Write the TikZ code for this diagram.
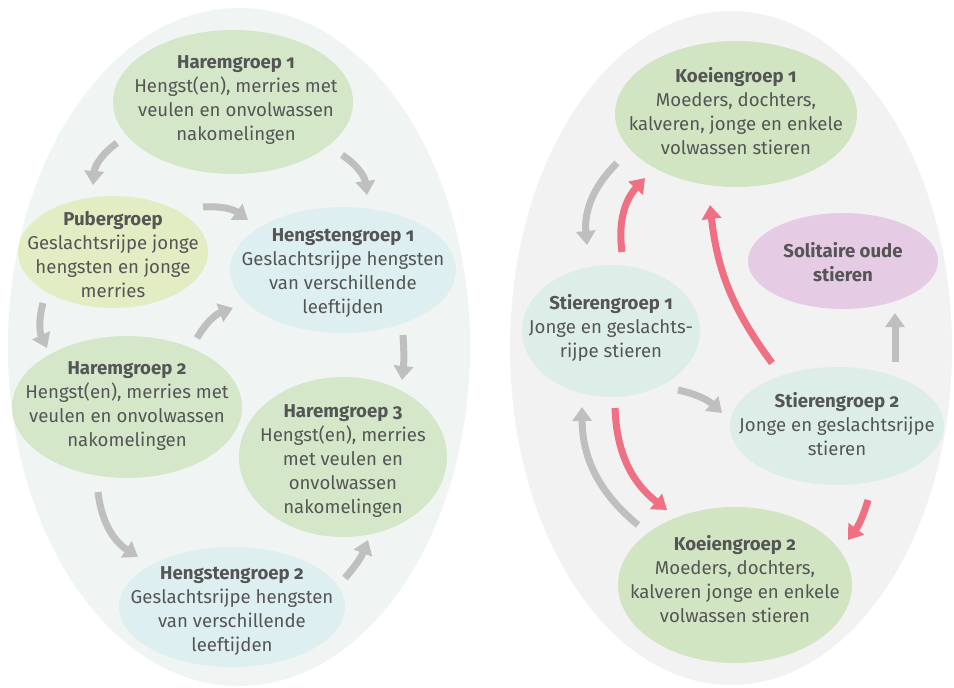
\documentclass[tikz,border=0pt]{standalone}
\usepackage{fontspec}
\setmainfont{Fira Sans}[Numbers=OldStyle]
\usetikzlibrary{shapes.geometric,arrows.meta,calc}
\definecolor{bgL}{HTML}{F0F4F2}
\definecolor{bgR}{HTML}{F2F2F2}
\definecolor{harem}{HTML}{D4E7C9}
\definecolor{puber}{HTML}{E3EDC4}
\definecolor{hengst}{HTML}{DDEFF0}
\definecolor{koe}{HTML}{D2E5C3}
\definecolor{stier}{HTML}{DDEEE9}
\definecolor{soli}{HTML}{E6CBE4}
\definecolor{agrey}{HTML}{BFBFBF}
\definecolor{ared}{HTML}{EE7082}
\definecolor{txtc}{HTML}{555555}
\tikzset{
  blob/.style={ellipse, inner sep=0pt, draw=none},
  txt/.style={align=center, text=txtc, font=\fontsize{18.6}{24}\selectfont, inner sep=0pt},
  garrow/.style={draw=agrey, line width=7pt, -{Triangle[width=19pt,length=14pt]}},
  rarrow/.style={draw=ared, line width=7pt, -{Triangle[width=19pt,length=14pt]}}
}
\begin{document}
\begin{tikzpicture}[x=1pt,y=-1pt]
\useasboundingbox (0,0) rectangle (954,688);
\fill[white] (0,0) rectangle (954,688);
% big backgrounds
\node[blob, fill=bgL, minimum width=462pt, minimum height=678pt] (L) at (239,347) {};
\node[blob, fill=bgR, minimum width=442pt, minimum height=674pt] (R) at (731,348) {};
% left nodes
\node[blob, fill=harem, minimum width=240pt, minimum height=144pt] (h1) at (233,102) {};
\node[blob, fill=puber, minimum width=190pt, minimum height=112pt] (pub) at (113,252) {};
\node[blob, fill=hengst, minimum width=226pt, minimum height=126pt] (hg1) at (343,270) {};
\node[blob, fill=harem, minimum width=230pt, minimum height=142pt] (h2) at (127,407) {};
\node[blob, fill=harem, minimum width=208pt, minimum height=160pt] (h3) at (343,457) {};
\node[blob, fill=hengst, minimum width=226pt, minimum height=120pt] (hg2) at (232,607) {};
% right nodes
\node[blob, fill=koe, minimum width=242pt, minimum height=146pt] (k1) at (736,114) {};
\node[blob, fill=soli, minimum width=190pt, minimum height=96pt] (sol) at (843,261) {};
\node[blob, fill=stier, minimum width=178pt, minimum height=132pt] (s1) at (611,331) {};
\node[blob, fill=stier, minimum width=214pt, minimum height=118pt] (s2) at (837,426) {};
\node[blob, fill=koe, minimum width=234pt, minimum height=156pt] (k2) at (735,585) {};
% texts
\node[txt] (h1t) at ($(h1)+(3,-2)$) {\textbf{Haremgroep 1}\\Hengst(en), merries met\\veulen en onvolwassen\\nakomelingen};
\node[txt] (pubt) at ($(pub)+(0,3)$) {\textbf{Pubergroep}\\Geslachtsrijpe jonge\\hengsten en jonge\\merries};
\node[txt] (hg1t) at ($(hg1)+(0,3)$) {\textbf{Hengstengroep 1}\\Geslachtsrijpe hengsten\\van verschillende\\leeftijden};
\node[txt] (h2t) at ($(h2)+(0,-1)$) {\textbf{Haremgroep 2}\\Hengst(en), merries met\\veulen en onvolwassen\\nakomelingen};
\node[txt] (h3t) at ($(h3)+(0,4)$) {\textbf{Haremgroep 3}\\Hengst(en), merries\\met veulen en\\onvolwassen\\nakomelingen};
\node[txt] (hg2t) at ($(hg2)+(0,4)$) {\textbf{Hengstengroep 2}\\Geslachtsrijpe hengsten\\van verschillende\\leeftijden};
\node[txt] (k1t) at ($(k1)+(0,-3)$) {\textbf{Koeiengroep 1}\\Moeders, dochters,\\kalveren, jonge en enkele\\volwassen stieren};
\node[txt] (solt) at ($(sol)+(0,1)$) {\textbf{Solitaire oude}\\\textbf{stieren}};
\node[txt] (s1t) at ($(s1)+(0,-3)$) {\textbf{Stierengroep 1}\\Jonge en geslachts-\\rijpe stieren};
\node[txt] (s2t) at ($(s2)+(0,-2)$) {\textbf{Stierengroep 2}\\Jonge en geslachtsrijpe\\stieren};
\node[txt] (k2t) at ($(k2)+(0,-6)$) {\textbf{Koeiengroep 2}\\Moeders, dochters,\\kalveren jonge en enkele\\volwassen stieren};
% left arrows
\draw[garrow] ($(h1)+(-116,41)$) to[bend right=25] ($(pub)+(-20,-67)$);
\draw[garrow] ($(h1)+(109,53)$) to[bend left=25] ($(hg1)+(24,-75)$);
\draw[garrow] ($(pub)+(90,-45)$) to[bend left=20] ($(hg1)+(-95,-50)$);
\draw[garrow] ($(pub)+(-70,51)$) to[bend right=20] ($(h2)+(-80,-59)$);
\draw[garrow] ($(h2)+(70,-69)$) to[bend left=20] ($(hg1)+(-110,38)$);
\draw[garrow] ($(hg1)+(60,65)$) to[bend left=5] ($(h3)+(59,-77)$);
\draw[garrow] ($(h2)+(-29,85)$) to[bend right=25] ($(hg2)+(-94,-50)$);
\draw[garrow] ($(hg2)+(113,-29)$) to[bend right=10] ($(h3)+(25,83)$);
% right arrows
\draw[garrow] ($(k1)+(-119,49)$) to[bend right=25] ($(s1)+(-24,-86)$);
\draw[rarrow] ($(s1)+(11,-79)$) to[bend left=25] ($(k1)+(-91,64)$);
\draw[rarrow] ($(s2)+(-65,-63)$) to[bend left=15] ($(k1)+(-26,91)$);
\draw[garrow] ($(s1)+(67,59)$) to[bend left=15] ($(s2)+(-115,-13)$);
\draw[garrow] ($(s2)+(58,-64)$) -- ($(sol)+(52,52)$);
\draw[rarrow] ($(s1)+(4,77)$) to[bend right=25] ($(k2)+(-68,-75)$);
\draw[garrow] ($(k2)+(-97,-60)$) to[bend left=25] ($(s1)+(-29,76)$);
\draw[rarrow] ($(s2)+(31,74)$) to[bend left=10] ($(k2)+(113,-45)$);
\end{tikzpicture}
\end{document}
